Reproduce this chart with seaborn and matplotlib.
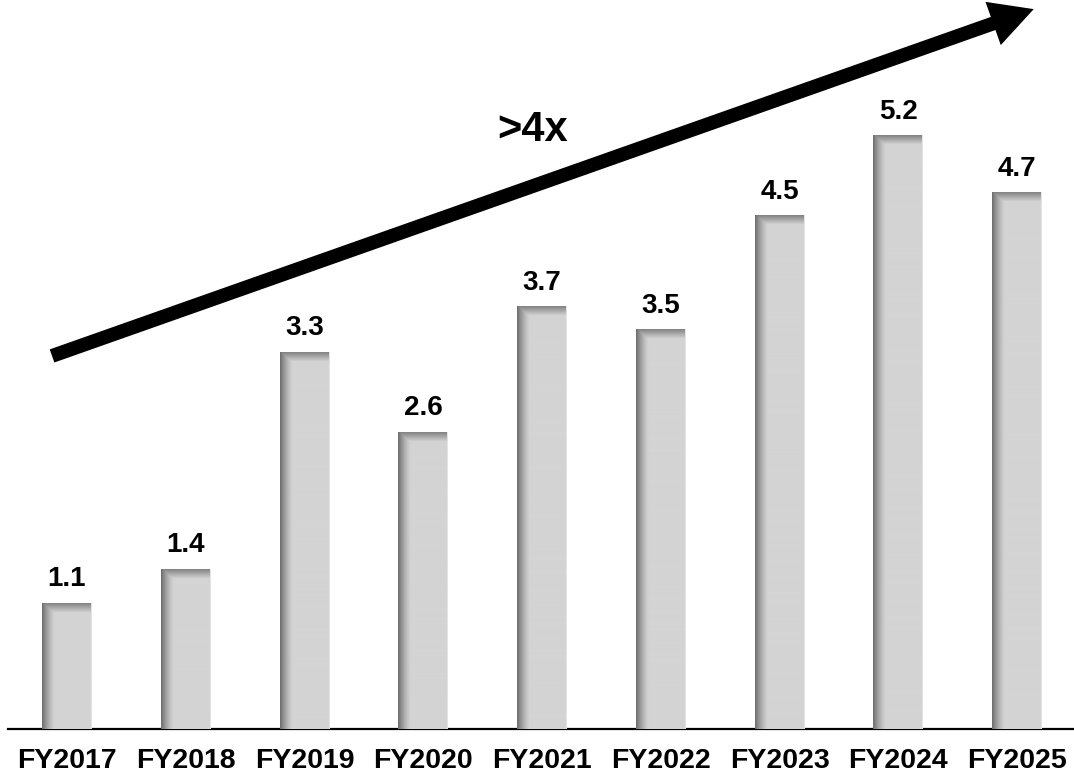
import numpy as np
import pandas as pd
import seaborn as sns
import matplotlib.pyplot as plt

years = ['FY2017', 'FY2018', 'FY2019', 'FY2020', 'FY2021',
         'FY2022', 'FY2023', 'FY2024', 'FY2025']
values = [1.1, 1.4, 3.3, 2.6, 3.7, 3.5, 4.5, 5.2, 4.7]

df = pd.DataFrame({'year': years, 'value': values})

sns.set_style('white')
plt.rcParams['font.family'] = ['Liberation Sans', 'DejaVu Sans']
plt.rcParams['text.color'] = 'black'
plt.rcParams['xtick.color'] = 'black'

fig = plt.figure(figsize=(10.74, 7.8), dpi=100)
ax = fig.add_axes([7.5 / 1074, 51 / 780, 1069 / 1074, 729 / 780])

sns.barplot(data=df, x='year', y='value', color='#d4d4d4', width=0.42,
            saturation=1, ax=ax, zorder=2)

ax.set_xlim(-0.5, 8.5)
ax.set_ylim(0, 6.39)

# shading on the bars: dark left edge and dark top edge
px_per_unit = 729 / 6.39
for p in ax.patches:
    x0, w, h = p.get_x(), p.get_width(), p.get_height()
    ny = max(int(h * px_per_unit), 2)
    nx = 50
    u = np.linspace(0, 1, nx)
    r = np.arange(ny)
    left = np.clip(1 - u * nx / 13, 0, 1) ** 1.4
    top = np.clip(1 - r / 9, 0, 1)
    dark = np.maximum(left[None, :] * 0.95, top[:, None] * 0.75)
    dark[:, -1] = -0.15
    img = 0.83 - dark * (0.83 - 0.42)
    ax.imshow(img, cmap='gray', vmin=0, vmax=1, aspect='auto',
              extent=(x0, x0 + w, 0, h), zorder=3, interpolation='bilinear')

ax.bar_label(ax.containers[0], fmt='%.1f', padding=8, fontsize=20,
             fontweight='bold', zorder=4)

# growth arrow
ax.annotate('', xy=(8.14, 6.31), xytext=(-0.125, 3.27),
            arrowprops=dict(arrowstyle='simple,head_length=3.1,head_width=3.3,tail_width=1.0',
                            lw=0, color='black', mutation_scale=10,
                            shrinkA=0, shrinkB=0),
            zorder=5)
ax.text(3.92, 5.25, '>4x', fontsize=30, fontweight='bold', ha='center',
        va='center')

sns.despine(ax=ax, left=True, top=True, right=True)
ax.spines['bottom'].set_linewidth(1.6)
ax.spines['bottom'].set_color('black')
ax.set_yticks([])
ax.set_xlabel('')
ax.set_ylabel('')
ax.tick_params(axis='x', length=0, pad=14)
for lab in ax.get_xticklabels():
    lab.set_fontsize(20.5)
    lab.set_fontweight('bold')

fig.savefig('out.png', dpi=100)
